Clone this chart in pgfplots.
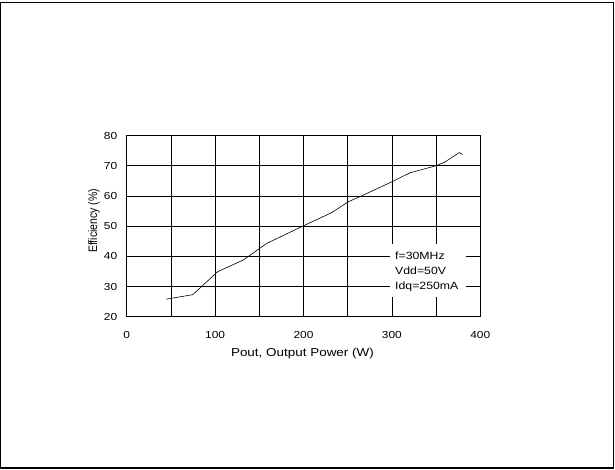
\documentclass[border=0pt]{standalone}
\usepackage{fontspec}
\setmainfont{Liberation Sans}[FakeStretch=1.17]
\newfontfamily\ylfont{Liberation Sans}
\usepackage{pgfplots}
\pgfplotsset{compat=1.18}
\begin{document}
\begin{tikzpicture}[x=1pt,y=1pt]
\path[use as bounding box] (0,0) rectangle (615,470);
\draw[line width=1.4pt] (0.7,1.9) rectangle (613.3,467.3);
\begin{axis}[
  at={(126.7pt,153.3pt)}, anchor=south west,
  scale only axis, width=353.6pt, height=181pt,
  xmin=0, xmax=400, ymin=20, ymax=80,
  xtick={0,100,200,300,400},
  minor xtick={50,150,250,350},
  ytick={20,30,40,50,60,70,80},
  major tick length=0pt, minor tick length=0pt,
  grid=both,
  major grid style={black, line width=0.8pt},
  minor grid style={black, line width=0.8pt},
  axis line style={black, line width=1.1pt},
  /pgf/number format/assume math mode=true,
  ticklabel style={font=\fontsize{10.2}{12}\selectfont},
  xticklabel style={anchor=base, yshift=-22.3pt},
  yticklabel style={anchor=east, xshift=-6pt},
  xlabel={Pout, Output Power (W)},
  every axis x label/.style={at={(axis description cs:0.497,-0.221)}, anchor=base, font=\fontsize{11.5}{13}\selectfont},
  ylabel={\scalebox{1}[1.17]{\ylfont\fontsize{10.5}{12}\selectfont Efficiency (\%)}},
  every axis y label/.style={at={(axis description cs:-0.0925,0.53)}, anchor=center, rotate=90},
]
\addplot[black, line width=0.6pt] coordinates {
(44.5,25.8) (74.7,27.3) (102.9,34.9) (131.9,38.8) (158.4,44.3) (199.8,50.1)
(231.9,54.5) (250.7,58.1) (267.7,60.3) (299.8,64.7) (320.5,67.7) (349.5,70.0)
(359,71.1) (376.3,74.4) (380,73.8)
};
\fill[white] (axis cs:297.9,26.6) rectangle (axis cs:383.8,44.1);
\node[anchor=base west, inner sep=0pt, font=\fontsize{10.5}{12}\selectfont] at (axis cs:303.5,39.03) {f=30MHz};
\node[anchor=base west, inner sep=0pt, font=\fontsize{10.5}{12}\selectfont] at (axis cs:303.5,34.05) {Vdd=50V};
\node[anchor=base west, inner sep=0pt, font=\fontsize{10.5}{12}\selectfont] at (axis cs:303.5,29.08) {Idq=250mA};
\end{axis}
\end{tikzpicture}
\end{document}
